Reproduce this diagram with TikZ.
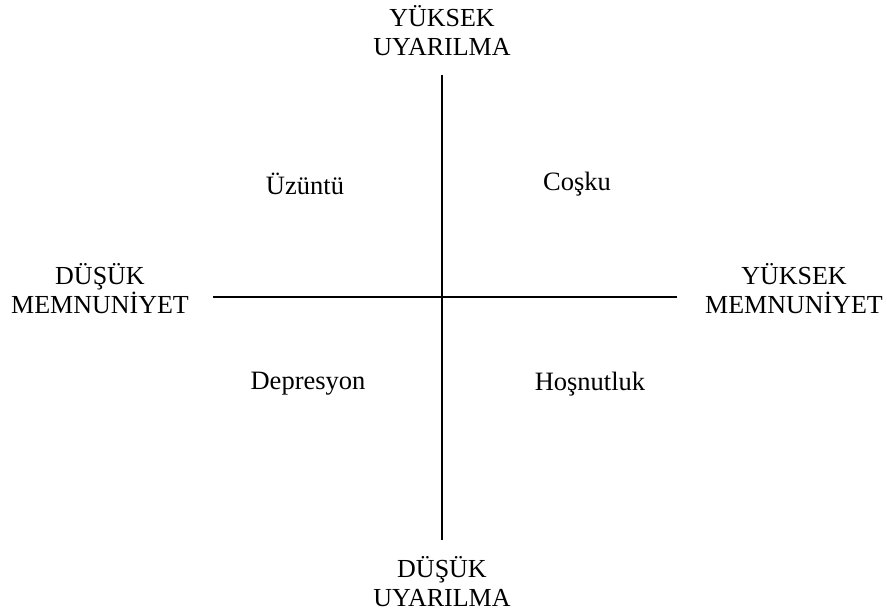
\documentclass[tikz,border=0pt]{standalone}
\usepackage{fontspec}
\setmainfont{Liberation Serif}
\begin{document}
\begin{tikzpicture}[x=1pt,y=-1pt,
  axis/.style={line width=1.3pt,black},
  lbl/.style={align=center,font=\fontsize{26}{29}\selectfont,inner sep=0pt},
  qlbl/.style={font=\fontsize{26.5}{29}\selectfont,inner sep=0pt}]
\useasboundingbox (0,0) rectangle (887,611);
\coordinate (top) at (442,75);
\coordinate (bot) at (442,540);
\coordinate (lft) at (213,297);
\coordinate (rgt) at (677,297);
\draw[axis] (top) -- (bot);
\draw[axis] (lft) -- (rgt);
\node[lbl] (ht) at (442,31) {YÜKSEK\\UYARILMA};
\node[lbl] (hb) at (442,582) {DÜŞÜK\\UYARILMA};
\node[lbl] (hl) at (100,289) {DÜŞÜK\\MEMNUNİYET};
\node[lbl] (hr) at (794,289) {YÜKSEK\\MEMNUNİYET};
\node[qlbl] (q1) at (305,184) {Üzüntü};
\node[qlbl] (q2) at (577,184) {Coşku};
\node[qlbl] (q3) at (308,384) {Depresyon};
\node[qlbl] (q4) at (590,384) {Hoşnutluk};
\end{tikzpicture}
\end{document}
